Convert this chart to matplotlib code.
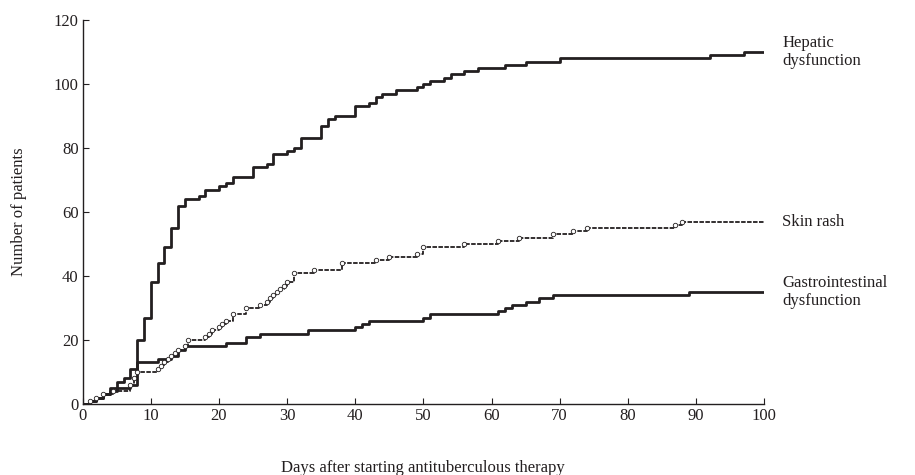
import matplotlib
matplotlib.use("Agg")
import matplotlib.pyplot as plt

# cumulative number of patients, steps
hepatic_days = [0, 1, 2, 3, 4, 5, 6, 7, 8, 9, 10, 11, 12, 13, 14, 15, 17, 18, 20, 21,
                22, 25, 27, 28, 30, 31, 32, 35, 36, 37, 40, 42, 43, 44, 46, 49, 50, 51,
                53, 54, 56, 58, 62, 65, 70, 92, 97, 100]
hepatic_vals = [0, 1, 2, 3, 5, 7, 8, 11, 20, 27, 38, 44, 49, 55, 62, 64, 65, 67, 68, 69,
                71, 74, 75, 78, 79, 80, 83, 87, 89, 90, 93, 94, 96, 97, 98, 99, 100, 101,
                102, 103, 104, 105, 106, 107, 108, 109, 110, 110]

rash_days = [0, 1, 2, 3, 4.5, 7, 7.5, 8, 11, 11.5, 12, 12.5, 13, 13.5, 14, 15, 15.5,
             18, 18.5, 19, 20, 20.5, 21, 22, 24, 26, 27, 27.5, 28, 28.5, 29, 29.5, 30,
             31, 34, 38, 43, 45, 49, 50, 56, 61, 64, 69, 72, 74, 87, 88, 100]
rash_vals = [0, 1, 2, 3, 4, 6, 8, 10, 11, 12, 13, 14, 15, 16, 17, 18, 20,
             21, 22, 23, 24, 25, 26, 28, 30, 31, 32, 33, 34, 35, 36, 37, 38,
             41, 42, 44, 45, 46, 47, 49, 50, 51, 52, 53, 54, 55, 56, 57, 57]

gi_days = [0, 1, 2, 3, 4, 5, 7, 8, 11, 13, 14, 15, 21, 24, 26, 33, 40, 41, 42, 50, 51,
           61, 62, 63, 65, 67, 69, 89, 100]
gi_vals = [0, 1, 2, 3, 4, 5, 6, 13, 14, 15, 17, 18, 19, 21, 22, 23, 24, 25, 26, 27, 28,
           29, 30, 31, 32, 33, 34, 35, 35]

labels = ["Hepatic\ndysfunction", "Skin rash", "Gastrointestinal\ndysfunction"]

plt.rcParams["font.family"] = ["Liberation Serif", "DejaVu Serif"]
ink = "#231f20"

fig = plt.figure(figsize=(9.15, 4.75), dpi=100)
ax = fig.add_axes([0.0904, 0.1495, 0.7446, 0.8085])

ax.step(hepatic_days, hepatic_vals, where="post", color=ink, lw=2.0)
ax.step(gi_days, gi_vals, where="post", color=ink, lw=2.0)
# skin rash: thin broken line with small open circles at each step
ax.step(rash_days, rash_vals, where="post", color=ink, lw=1.3, dashes=(2.5, 0.8))
ax.plot(rash_days[1:-1], rash_vals[1:-1], "o", ms=3.2, mfc="white", mec=ink, mew=0.6)

# labels at the right end of each curve
ends = [hepatic_vals[-1], rash_vals[-1], gi_vals[-1]]
for txt, y in zip(labels, ends):
    ax.text(102.7, y, txt, ha="left", va="center", fontsize=12, color=ink,
            clip_on=False)

ax.set_xlim(0, 100)
ax.set_ylim(0, 120)
ax.set_xticks(range(0, 101, 10))
ax.set_yticks(range(0, 121, 20))
ax.spines["top"].set_visible(False)
ax.spines["right"].set_visible(False)
for s in ["left", "bottom"]:
    ax.spines[s].set_color(ink)
    ax.spines[s].set_linewidth(1.0)
ax.tick_params(direction="in", length=4, width=0.8, labelsize=12, colors=ink, pad=3)

ax.set_xlabel("Days after starting antituberculous therapy", fontsize=12,
              color=ink, labelpad=26)
ax.set_ylabel("Number of patients", fontsize=12, color=ink, labelpad=19)

fig.savefig("out.png", dpi=100)
